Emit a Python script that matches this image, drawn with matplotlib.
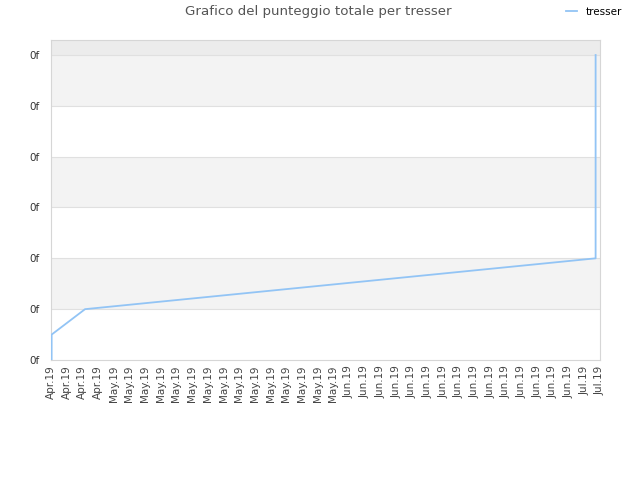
import matplotlib
matplotlib.use('Agg')
import matplotlib.pyplot as plt

# x labels (one every two days)
labels = ['Apr.19'] * 4 + ['May.19'] * 15 + ['Jun.19'] * 15 + ['Jul.19'] * 2

# score series, x given in label-slot units
x_pos = [0.04, 0.04, 2.17, 34.72, 34.72]
score = [0.0, 0.5, 1.0, 2.0, 6.0]

yticks = [0, 1, 2, 3, 4, 5, 6]
ytick_labels = ['0f'] * len(yticks)

line_color = '#92c4f5'

fig = plt.figure(figsize=(6.4, 4.8), dpi=100)
ax = fig.add_axes([51 / 640, 1 - 360 / 480, 549 / 640, 320 / 480])

ax.set_xlim(0, len(labels) - 1)
ax.set_ylim(0, 6.295)

# alternating bands
for lo in [1, 3, 5]:
    ax.axhspan(lo, lo + 1, color='#f3f3f3', lw=0, zorder=0)
ax.axhspan(6, 6.295, color='#ececec', lw=0, zorder=0)
for y in yticks[1:]:
    ax.axhline(y, color='#e0e0e0', lw=0.8, zorder=1)

ax.plot(x_pos, score, color=line_color, lw=1.3, zorder=3, label='tresser')

ax.set_yticks(yticks)
ax.set_yticklabels(ytick_labels, fontsize=7.5, color='#333333')
ax.set_xticks(range(len(labels)))
ax.set_xticklabels(labels, rotation=90, fontsize=7.5, color='#444444')
ax.tick_params(axis='both', length=0)
ax.tick_params(axis='y', pad=8)
ax.tick_params(axis='x', pad=4)

for s in ax.spines.values():
    s.set_color('#d6d6d6')
    s.set_linewidth(0.8)

fig.text(0.497, 1 - 12 / 480, 'Grafico del punteggio totale per tresser',
         ha='center', va='center', fontsize=9.6, color='#555555')

fig.legend(loc='center', bbox_to_anchor=(594 / 640, 1 - 12 / 480), frameon=False,
           fontsize=7.5, handlelength=1.0, handletextpad=0.8, borderpad=0)

fig.savefig('out.png', dpi=100)
